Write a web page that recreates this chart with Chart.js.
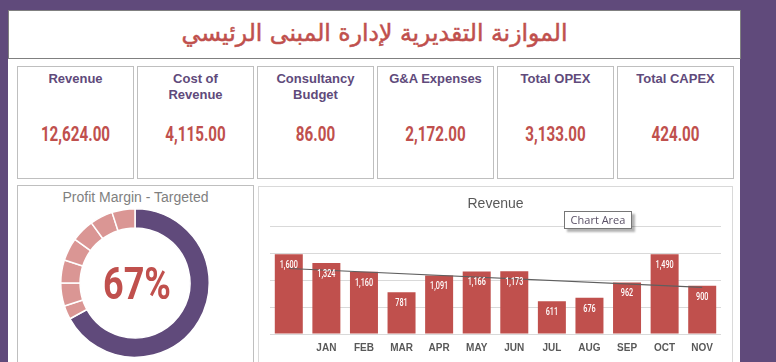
<!DOCTYPE html>
<html>
<head>
<meta charset="utf-8">
<script src="https://cdn.jsdelivr.net/npm/chart.js@4.4.1/dist/chart.umd.min.js"></script>
<style>
  body { margin: 0; width: 776px; height: 362px; overflow: hidden; background: #604a7b; position: relative; font-family: "Liberation Sans", Arial, sans-serif; }
  .sheet { position: absolute; left: 8px; top: 10px; width: 732px; height: 352px; background: #fff; }
  .title-box { position: absolute; left: 8px; top: 10px; width: 733px; height: 49px; box-sizing: border-box; border: 1px solid #808080; text-align: center; }
  .title-box span { display: block; font-family: "DejaVu Sans", sans-serif; font-size: 23.5px; line-height: 44px; color: #c0504d; -webkit-text-stroke: 0.5px #c0504d; direction: rtl; }
  .kpi { position: absolute; top: 66px; width: 117px; height: 113px; box-sizing: border-box; border: 1px solid #bfbfbf; text-align: center; }
  .kpi .name { margin-top: 4px; font-weight: bold; font-size: 13px; line-height: 16px; color: #604a7b; white-space: pre-line; }
  .kpi .value { position: absolute; left: 0; right: 0; top: 55px; line-height: 24px; font-family: Roboto, sans-serif; font-weight: 700; font-size: 20px; color: #c0504d; transform: scaleX(0.76); }
  .panel { position: absolute; box-sizing: border-box; }
  #margin-panel { left: 17px; top: 185px; width: 237px; height: 200px; border: 1px solid #bfbfbf; }
  #margin-panel .head { text-align: center; font-size: 14px; color: #7f7f7f; margin-top: 3px; }
  #revenue-panel { left: 258px; top: 186px; width: 475px; height: 200px; border: 1px solid #d9d9d9; }
  #margin-chart { position: absolute; left: 60px; top: 208px; }
  #revenue-chart { position: absolute; left: 259px; top: 187px; }
  #margin-text { position: absolute; left: 77px; width: 120px; top: 258px; line-height: 52px; text-align: center; font-family: Roboto, sans-serif; font-weight: 700; font-size: 45px; color: #c0504d; transform: scaleX(0.8); }
  #chart-area-tip { position: absolute; left: 564px; top: 211px; width: 68px; height: 18px; box-sizing: border-box; border: 1px solid #767676; background: #fff; box-shadow: 3px 3px 2px rgba(0,0,0,0.3); font-family: "Open Sans", sans-serif; font-size: 11px; line-height: 16px; color: #5a5066; text-align: center; }
</style>
</head>
<body>
<div class="sheet"></div>
<div class="title-box"><span>الموازنة التقديرية لإدارة المبنى الرئيسي</span></div>
<div id="kpi-row"></div>

<div class="panel" id="margin-panel"><div class="head">Profit Margin - Targeted</div></div>
<canvas id="margin-chart" width="150" height="150"></canvas>
<div id="margin-text"></div>

<div class="panel" id="revenue-panel"></div>
<canvas id="revenue-chart" width="473" height="175"></canvas>
<div id="chart-area-tip">Chart Area</div>

<script>
const PURPLE = '#604a7b';
const RED = '#c0504d';
const PINK = '#da9694';
const GREY_TEXT = '#595959';
const GRID_GREY = '#d9d9d9';

// kpi tiles along the top
const kpiTitles = ['Revenue', 'Cost of\nRevenue', 'Consultancy\nBudget', 'G&A Expenses', 'Total OPEX', 'Total CAPEX'];
const kpiValues = [12624, 4115, 86, 2172, 3133, 424];
const kpiLefts = [17, 137, 257, 377, 497, 617];

// profit margin doughnut: target share then the remaining part in small blocks
const profitMargin = 67;
const marginSlices = [67, 3, 5, 5, 5, 5, 5, 5];

// revenue by month
const months = ['', 'JAN', 'FEB', 'MAR', 'APR', 'MAY', 'JUN', 'JUL', 'AUG', 'SEP', 'OCT', 'NOV'];
const revenue = [1490, 1324, 1160, 781, 1091, 1166, 1173, 611, 676, 962, 1490, 900];
const barLabels = ['1,600', '1,324', '1,160', '781', '1,091', '1,166', '1,173', '611', '676', '962', '1,490', '900'];
const trend = [1222, null, null, null, null, null, null, null, null, null, null, 870];
const yTicks = [0, 500, 1000, 1500, 2000];

window.onload = onInit;

function onInit() {
    buildKpiTiles();
    buildMarginChart();
    buildRevenueChart();
}

/**
 * Writes the six kpi tiles
 */
function buildKpiTiles() {
    const row = document.getElementById('kpi-row');
    kpiTitles.forEach((title, i) => {
        const tile = document.createElement('div');
        tile.className = 'kpi';
        tile.style.left = kpiLefts[i] + 'px';
        const value = kpiValues[i].toLocaleString('en-US', { minimumFractionDigits: 2, maximumFractionDigits: 2 });
        tile.innerHTML = `<div class="name"></div><div class="value">${value}</div>`;
        tile.querySelector('.name').textContent = title;
        row.appendChild(tile);
    });
}

/**
 * Doughnut for the targeted profit margin
 */
function buildMarginChart() {
    document.getElementById('margin-text').textContent = profitMargin + '%';
    const colours = marginSlices.map((v, i) => i == 0 ? PURPLE : PINK);

    new Chart(document.getElementById('margin-chart'), {
        type: 'doughnut',
        data: {
            datasets: [{
                data: marginSlices,
                backgroundColor: colours,
                borderColor: '#fff',
                borderWidth: 1.5
            }]
        },
        options: {
            responsive: false,
            animation: false,
            cutout: '74%',
            plugins: { legend: { display: false }, tooltip: { enabled: false } }
        }
    });
}

// writes the value labels just inside the top of each bar
const barLabelPlugin = {
    id: 'barLabels',
    afterDatasetsDraw(chart) {
        const ctx = chart.ctx;
        const meta = chart.getDatasetMeta(1); // dataset 1 = the bars
        ctx.save();
        ctx.fillStyle = '#fff';
        ctx.font = '500 11px Roboto';
        ctx.textAlign = 'center';
        ctx.textBaseline = 'middle';
        meta.data.forEach((bar, i) => {
            ctx.save();
            ctx.translate(bar.x, bar.y + 11);
            ctx.scale(0.66, 1);
            ctx.fillText(barLabels[i], 0, 0);
            ctx.restore();
        });
        ctx.restore();
    }
};

/**
 * Monthly revenue bars with a linear trend line
 */
function buildRevenueChart() {
    new Chart(document.getElementById('revenue-chart'), {
        type: 'bar',
        data: {
            labels: months,
            datasets: [{
                type: 'line',
                data: trend,
                spanGaps: true,
                borderColor: '#5f5f5f',
                borderWidth: 1.2,
                pointRadius: 0,
                order: 0
            }, {
                data: revenue,
                backgroundColor: RED,
                categoryPercentage: 1,
                barPercentage: 0.745,
                order: 1
            }]
        },
        options: {
            responsive: false,
            animation: false,
            layout: { padding: { left: 11, right: 11, top: 0, bottom: 0 } },
            scales: {
                x: {
                    grid: { display: false, drawTicks: false },
                    border: { display: false },
                    ticks: { color: GREY_TEXT, font: { size: 10, weight: 'bold', family: 'Liberation Sans' }, padding: 8, maxRotation: 0, autoSkip: false }
                },
                y: {
                    min: yTicks[0],
                    max: yTicks[yTicks.length - 1],
                    ticks: { display: false, stepSize: yTicks[1] - yTicks[0] },
                    grid: { color: GRID_GREY, drawTicks: false },
                    border: { display: false }
                }
            },
            plugins: {
                legend: { display: false },
                tooltip: { enabled: false },
                title: {
                    display: true,
                    text: 'Revenue',
                    color: GREY_TEXT,
                    font: { size: 14, weight: 'normal', family: 'Liberation Sans' },
                    padding: { top: 9, bottom: 14 }
                }
            }
        },
        plugins: [barLabelPlugin]
    });
}
</script>
</body>
</html>
